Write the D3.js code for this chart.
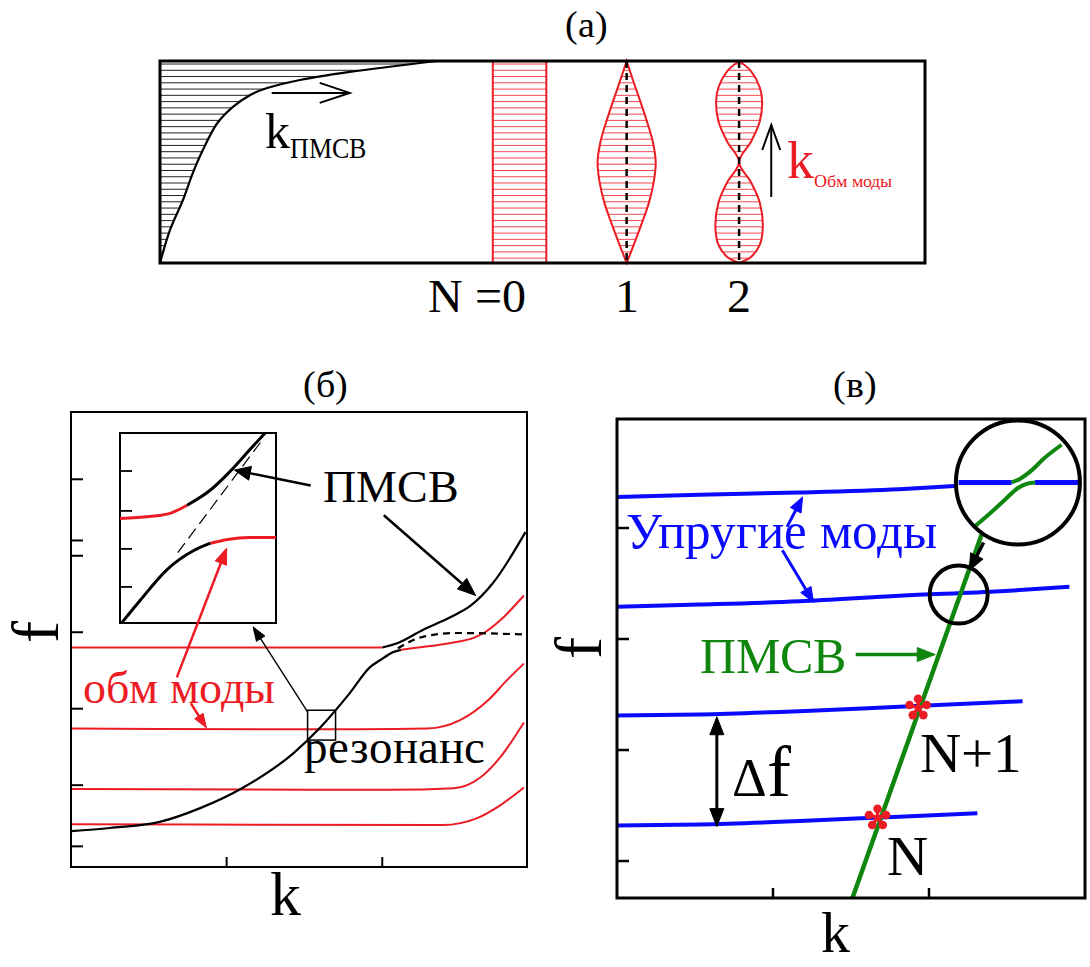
<!DOCTYPE html>
<html><head><meta charset="utf-8">
<script src="https://cdn.jsdelivr.net/npm/d3@7"></script>
<style>
@font-face{font-family:"FigSerif";src:local("Liberation Serif"),local("LiberationSerif"),local("LiberationSerif-Regular"),local("DejaVu Serif"),local("DejaVuSerif"),local("Times New Roman");}
html,body{margin:0;padding:0;background:#fff}
svg{display:block}
svg text{font-family:"FigSerif","Liberation Serif","DejaVu Serif",serif}
</style></head><body>
<svg id="fig" width="1090" height="967"></svg>
<script>
// ---------- (a) depth profiles across the film (x: position, depth in % of thickness) ----------
const surfaceProfile = [[36.2,0],[24.8,5.4],[18.3,9.4],[14.0,13.4],[11.8,16.8],[9.5,22.8],[7.5,30.7],[5.6,44.1],[4.3,55.4],[3.0,68.8],[1.3,83.7],[0,100]];
const uniformBand = [43.5, 50.5];              // N = 0 mode: constant amplitude across depth
const mode1Amp = [[0,0],[10,0.23],[20,0.47],[30,0.7],[40,0.9],[50,1],[60,0.93],[70,0.77],[80,0.53],[90,0.27],[100,0]];
const mode2Amp = [[0,0],[5,0.5],[13,0.87],[20,0.97],[30,0.87],[40,0.5],[50,0],[60,0.5],[70,0.87],[82,1],[91,0.87],[97,0.5],[100,0]];
const modeCenters = [61.0, 75.7];
const modeLabels = ["N =0", "1", "2"];

// ---------- (б) dispersion: magnetostatic wave vs exchange modes ----------
const bTicksF = [5, 4.2, 4, 3, 2, 1, 0.2];
const bTicksK = [1, 2];
const exch1Left  = [[0,2.80],[1.0,2.80],[2.0,2.80]];
const exch1Right = [[2.12,2.77],[2.23,2.80],[2.44,2.86],[2.59,2.93],[2.66,3.00],[2.76,3.16],[2.91,3.48]];
const exch2 = [[0,1.74],[1.86,1.73],[2.29,1.74],[2.50,1.85],[2.68,2.11],[2.80,2.37],[2.91,2.59]];
const exch3 = [[0,0.95],[2.07,0.94],[2.46,0.96],[2.63,1.10],[2.76,1.37],[2.91,1.82]];
const exch4 = [[0,0.49],[2.39,0.48],[2.61,0.57],[2.76,0.74],[2.91,0.97]];
const pmsvLower = [[0,0.40],[0.25,0.44],[0.57,0.52],[0.83,0.70],[1.09,0.95],[1.43,1.42],[1.60,1.75],[1.79,2.20],[1.92,2.54],[1.99,2.64],[2.07,2.74],[2.12,2.77]];
const pmsvUpper = [[2.0,2.80],[2.10,2.86],[2.26,3.03],[2.44,3.20],[2.57,3.35],[2.71,3.64],[2.92,4.31]];
const pmsvUncoupled = [[2.10,2.79],[2.26,2.94],[2.48,2.99],[2.92,2.97]];
// enlarged view of one crossing
const insetTicks = [0.80, 0.59, 0.39, 0.19];
const insetRedUpper  = [[0,0.55],[0.19,0.56],[0.33,0.58],[0.43,0.62]];
const insetPmsvUpper = [[0.43,0.62],[0.58,0.70],[0.72,0.81],[0.83,0.91],[0.93,1.0]];
const insetPmsvLower = [[0.01,0],[0.13,0.12],[0.30,0.28],[0.47,0.38],[0.58,0.42]];
const insetRedLower  = [[0.58,0.42],[0.69,0.44],[0.83,0.45],[1,0.45]];
const insetDashed    = [[0.37,0.37],[0.90,0.95]];

// ---------- (в) elastic modes vs magnetostatic wave ----------
const vTicksF = [0, 1, 2, 3];
const vTicksK = [1, 2];
const elastic1 = [[0,3.28],[0.53,3.30],[1.17,3.32],[1.81,3.35],[2.19,3.38]];
const elastic2 = [[0,2.29],[0.53,2.31],[1.17,2.34],[1.81,2.39],[2.46,2.43],[2.90,2.47]];
const elastic3 = [[0,1.31],[0.53,1.32],[1.17,1.35],[1.81,1.39],[2.60,1.44]];
const elastic4 = [[0,0.32],[0.53,0.33],[1.17,0.36],[1.81,0.40],[2.31,0.43]];
const pmsvLine = [[1.51,-0.33],[2.60,3.98]];
const zoomBlueLeft  = [[2.19,3.41],[2.53,3.41]];
const zoomBlueRight = [[2.68,3.41],[3.0,3.41]];
const zoomGreenUpper = [[2.53,3.41],[2.58,3.44],[2.65,3.51],[2.74,3.63],[2.85,3.75]];
const zoomGreenLower = [[2.29,3.01],[2.39,3.13],[2.49,3.26],[2.57,3.36],[2.63,3.40],[2.68,3.41]];
const resonances = [{k:1.67, f:0.39, label:"N",   lk:1.73, lf:-0.13},
                    {k:1.93, f:1.38, label:"N+1", lk:1.94, lf:0.80}];
const zoomCircle = {k:2.57, f:3.41};
const spotCircle = {k:2.19, f:2.40};

// ---------- styling ----------
const RED = "#ec1c24", BLUE = "#0a0aff", GREEN = "#0f870f", BLACK = "#000";
const svg = d3.select("#fig");

function arrow(g, p1, p2, o) {
  const color = o.color || BLACK, w = o.width || 2, L = o.len || 14, hw = o.hw || 5;
  const dx = p2[0]-p1[0], dy = p2[1]-p1[1], d = Math.hypot(dx, dy), ux = dx/d, uy = dy/d;
  const head = (tip, sx, sy) => {
    const bx = tip[0]-sx*L, by = tip[1]-sy*L;
    const a = [bx - sy*hw, by + sx*hw], b = [bx + sy*hw, by - sx*hw];
    if (o.open) {
      g.append("path").attr("d", `M${a}L${tip}L${b}`).attr("fill","none")
        .attr("stroke", color).attr("stroke-width", w).attr("stroke-linejoin","miter");
    } else {
      g.append("path").attr("d", `M${a}L${tip}L${b}Z`).attr("fill", color).attr("stroke", color).attr("stroke-width", 1);
    }
  };
  const s = o.both && !o.open ? L*0.8 : 0, e = o.open ? 0 : L*0.8;
  g.append("line").attr("x1", p1[0]+ux*s).attr("y1", p1[1]+uy*s).attr("x2", p2[0]-ux*e).attr("y2", p2[1]-uy*e)
    .attr("stroke", color).attr("stroke-width", w);
  head(p2, ux, uy);
  if (o.both) head(p1, -ux, -uy);
}

// ================= (a) =================
{
  const x = d3.scaleLinear().domain([0,100]).range([160,925]);
  const y = d3.scaleLinear().domain([0,100]).range([61,263]);
  const g = svg.append("g");
  const defs = svg.append("defs");
  const hatchDepths = d3.range(1.5, 100, 3.1);

  // surface magnetostatic wave profile
  const curve = d3.line().x(d=>x(d[0])).y(d=>y(d[1])).curve(d3.curveCatmullRom);
  const areaD = curve(surfaceProfile) + `L${x(0)},${y(0)}Z`;
  defs.append("clipPath").attr("id","clipSurf").append("path").attr("d", areaD);
  g.append("g").attr("clip-path","url(#clipSurf)").selectAll("line").data(hatchDepths).join("line")
    .attr("x1", x(0)).attr("x2", x(40)).attr("y1", d=>y(d)).attr("y2", d=>y(d))
    .attr("stroke", "#222").attr("stroke-width", 1);
  g.append("path").attr("d", curve(surfaceProfile)).attr("fill","none").attr("stroke",BLACK).attr("stroke-width",2.2);

  // N = 0 band
  g.append("g").selectAll("line").data(hatchDepths).join("line")
    .attr("x1", x(uniformBand[0])).attr("x2", x(uniformBand[1])).attr("y1", d=>y(d)).attr("y2", d=>y(d))
    .attr("stroke", RED).attr("stroke-opacity", 0.8).attr("stroke-width", 1);
  uniformBand.forEach(u => g.append("line").attr("x1",x(u)).attr("x2",x(u)).attr("y1",y(0)).attr("y2",y(100))
    .attr("stroke",RED).attr("stroke-width",2));

  // higher-order exchange modes
  const halfW = 3.8;
  [mode1Amp, mode2Amp].forEach((amp, i) => {
    const c = modeCenters[i], hw = i === 0 ? halfW : 3.1;
    const ln = d3.line().x(d=>x(d[0])).y(d=>y(d[1])).curve(d3.curveCatmullRom);
    const right = amp.map(d => [c + d[1]*hw, d[0]]);
    const left = amp.map(d => [c - d[1]*hw, d[0]]).reverse();
    const dd = ln(right) + ln(left).replace(/^M/, "L") + "Z";
    const id = "clipMode" + i;
    defs.append("clipPath").attr("id", id).append("path").attr("d", dd);
    g.append("g").attr("clip-path", `url(#${id})`).selectAll("line").data(hatchDepths).join("line")
      .attr("x1", x(c-hw-1)).attr("x2", x(c+hw+1)).attr("y1", d=>y(d)).attr("y2", d=>y(d))
      .attr("stroke", RED).attr("stroke-opacity", 0.8).attr("stroke-width", 1);
    g.append("path").attr("d", dd).attr("fill","none").attr("stroke",RED).attr("stroke-width",2);
    g.append("line").attr("x1",x(c)).attr("x2",x(c)).attr("y1",y(0)).attr("y2",y(100))
      .attr("stroke",BLACK).attr("stroke-width",2.5).attr("stroke-dasharray","7,5");
  });

  g.append("rect").attr("x",x(0)).attr("y",y(0)).attr("width",x(100)-x(0)).attr("height",y(100)-y(0))
    .attr("fill","none").attr("stroke",BLACK).attr("stroke-width",3);

  // wave-vector annotations
  arrow(g, [x(14.6), y(15.8)], [x(24.8), y(15.8)], {open:true, width:2, len:30, hw:10});
  const t1 = g.append("text").attr("x", x(13.7)).attr("y", y(43.1)).attr("font-size", 50).attr("fill", BLACK);
  t1.append("tspan").text("k");
  t1.append("tspan").attr("dy", 10).attr("font-size", 29).attr("textLength", 76).attr("lengthAdjust","spacingAndGlyphs").text("ПМСВ");
  arrow(g, [x(79.9), y(67.3)], [x(79.9), y(31.7)], {open:true, width:2, len:25, hw:9});
  const t2 = g.append("text").attr("x", x(82.0)).attr("y", y(57.9)).attr("font-size", 54).attr("fill", RED);
  t2.append("tspan").text("k");
  t2.append("tspan").attr("dy", 9).attr("font-size", 18).text("Обм моды");

  // mode numbers
  g.append("text").attr("x", x(35.0)).attr("y", y(124.3)).attr("font-size", 48).text(modeLabels[0]);
  modeCenters.forEach((c, i) => g.append("text").attr("x", x(c)).attr("y", y(124.3)).attr("text-anchor","middle")
    .attr("font-size", 48).text(modeLabels[i+1]));

  svg.append("text").attr("x", 586).attr("y", 37).attr("text-anchor","middle").attr("font-size",38).text("(a)");
}

// ================= (б) =================
{
  const x = d3.scaleLinear().domain([0, 2.93]).range([71, 527]);
  const y = d3.scaleLinear().domain([-0.07, 5.88]).range([867, 412]);
  const g = svg.append("g");
  const ln = d3.line().x(d=>x(d[0])).y(d=>y(d[1])).curve(d3.curveMonotoneX);

  // inner ticks
  g.selectAll(".ty").data(bTicksF).join("line").attr("x1", x(0)).attr("x2", x(0)+12)
    .attr("y1", d=>y(d)).attr("y2", d=>y(d)).attr("stroke",BLACK).attr("stroke-width",2);
  g.selectAll(".tx").data(bTicksK).join("line").attr("x1", d=>x(d)).attr("x2", d=>x(d))
    .attr("y1", y(-0.07)).attr("y2", y(-0.07)-10).attr("stroke",BLACK).attr("stroke-width",2);

  [exch1Left, exch1Right, exch2, exch3, exch4].forEach(s =>
    g.append("path").attr("d", ln(s)).attr("fill","none").attr("stroke",RED).attr("stroke-width",2));
  [pmsvLower, pmsvUpper].forEach(s =>
    g.append("path").attr("d", ln(s)).attr("fill","none").attr("stroke",BLACK).attr("stroke-width",2.2));
  g.append("path").attr("d", ln(pmsvUncoupled)).attr("fill","none").attr("stroke",BLACK)
    .attr("stroke-width",2.2).attr("stroke-dasharray","7,5");

  g.append("rect").attr("x",x(0)).attr("y",y(5.88)).attr("width",x(2.93)-x(0)).attr("height",y(-0.07)-y(5.88))
    .attr("fill","none").attr("stroke",BLACK).attr("stroke-width",2);

  // inset: enlarged crossing
  const xi = d3.scaleLinear().domain([0,1]).range([120,276]);
  const yi = d3.scaleLinear().domain([0,1]).range([623,433]);
  const li = d3.line().x(d=>xi(d[0])).y(d=>yi(d[1])).curve(d3.curveMonotoneX);
  const gi = g.append("g");
  gi.append("rect").attr("x",xi(0)).attr("y",yi(1)).attr("width",xi(1)-xi(0)).attr("height",yi(0)-yi(1))
    .attr("fill","#fff").attr("stroke",BLACK).attr("stroke-width",2);
  gi.selectAll(".it").data(insetTicks).join("line").attr("x1", xi(0)).attr("x2", xi(0)+12)
    .attr("y1", d=>yi(d)).attr("y2", d=>yi(d)).attr("stroke",BLACK).attr("stroke-width",1.8);
  gi.append("path").attr("d", d3.line().x(d=>xi(d[0])).y(d=>yi(d[1]))(insetDashed)).attr("stroke",BLACK)
    .attr("stroke-width",1.2).attr("stroke-dasharray","12,6").attr("fill","none");
  [insetRedUpper, insetRedLower].forEach(s =>
    gi.append("path").attr("d", li(s)).attr("fill","none").attr("stroke",RED).attr("stroke-width",3));
  [insetPmsvUpper, insetPmsvLower].forEach(s =>
    gi.append("path").attr("d", li(s)).attr("fill","none").attr("stroke",BLACK).attr("stroke-width",3));

  // resonance marker
  g.append("rect").attr("x", x(1.52)).attr("y", y(1.98)).attr("width", x(1.70)-x(1.52)).attr("height", y(1.59)-y(1.98))
    .attr("fill","none").attr("stroke",BLACK).attr("stroke-width",1.5);

  // annotations
  arrow(g, [x(1.54), y(4.92)], [x(1.05), y(5.12)], {width:2.5, len:16, hw:7});
  arrow(g, [x(2.01), y(4.53)], [x(2.60), y(3.48)], {width:2.5, len:18, hw:7});
  arrow(g, [x(1.52), y(1.96)], [x(1.17), y(3.07)], {width:1.4, len:14, hw:5});
  arrow(g, [x(0.68), y(2.41)], [x(1.00), y(4.10)], {color:RED, width:2.5, len:16, hw:6});
  arrow(g, [x(0.77), y(2.07)], [x(0.87), y(1.75)], {color:RED, width:2.5, len:14, hw:5});

  g.append("text").attr("x", x(1.62)).attr("y", y(4.70)).attr("font-size", 46).text("ПМСВ");
  g.append("text").attr("x", x(0.08)).attr("y", y(2.08)).attr("font-size", 46).attr("fill", RED).text("обм моды");
  g.append("text").attr("x", x(1.50)).attr("y", y(1.29)).attr("font-size", 47).text("резонанс");

  g.append("text").attr("transform", `translate(${x(-0.23)},${y(3.0)}) rotate(-90)`).attr("text-anchor","middle")
    .attr("dominant-baseline","central").attr("font-size", 66).text("f");
  g.append("text").attr("x", x(1.38)).attr("y", y(-0.70)).attr("text-anchor","middle").attr("font-size", 62).text("k");
  svg.append("text").attr("x", 325).attr("y", 397).attr("text-anchor","middle").attr("font-size",38).text("(б)");
}

// ================= (в) =================
{
  const x = d3.scaleLinear().domain([0, 3]).range([617, 1085]);
  const y = d3.scaleLinear().domain([-0.333, 3.982]).range([898, 419]);
  const g = svg.append("g");
  const defs = svg.append("defs");
  const ln = d3.line().x(d=>x(d[0])).y(d=>y(d[1])).curve(d3.curveMonotoneX);
  const straight = d3.line().x(d=>x(d[0])).y(d=>y(d[1]));

  defs.append("clipPath").attr("id","clipV").append("rect").attr("x",x(0)).attr("y",y(3.982))
    .attr("width",x(3)-x(0)).attr("height",y(-0.333)-y(3.982));
  const plot = g.append("g").attr("clip-path","url(#clipV)");

  g.selectAll(".ty").data(vTicksF).join("line").attr("x1", x(0)).attr("x2", x(0)+12)
    .attr("y1", d=>y(d)).attr("y2", d=>y(d)).attr("stroke",BLACK).attr("stroke-width",2.5);
  g.selectAll(".tx").data(vTicksK).join("line").attr("x1", d=>x(d)).attr("x2", d=>x(d))
    .attr("y1", y(-0.333)).attr("y2", y(-0.333)-10).attr("stroke",BLACK).attr("stroke-width",2.5);

  [elastic1, elastic2, elastic3, elastic4].forEach(s =>
    plot.append("path").attr("d", ln(s)).attr("fill","none").attr("stroke",BLUE).attr("stroke-width",4));
  plot.append("path").attr("d", straight(pmsvLine)).attr("stroke",GREEN).attr("stroke-width",4.5);

  // magnified view of the crossing
  const R = 62, cx = x(zoomCircle.k), cy = y(zoomCircle.f);
  defs.append("clipPath").attr("id","clipZoom").append("circle").attr("cx",cx).attr("cy",cy).attr("r",R);
  plot.append("circle").attr("cx",cx).attr("cy",cy).attr("r",R).attr("fill","#fff");
  const gz = plot.append("g").attr("clip-path","url(#clipZoom)");
  [zoomBlueLeft, zoomBlueRight].forEach(s =>
    gz.append("path").attr("d", straight(s)).attr("stroke",BLUE).attr("stroke-width",5));
  [zoomGreenUpper, zoomGreenLower].forEach(s =>
    gz.append("path").attr("d", ln(s)).attr("fill","none").attr("stroke",GREEN).attr("stroke-width",4));
  plot.append("circle").attr("cx",cx).attr("cy",cy).attr("r",R).attr("fill","none").attr("stroke",BLACK).attr("stroke-width",4);

  g.append("circle").attr("cx",x(spotCircle.k)).attr("cy",y(spotCircle.f)).attr("r",29)
    .attr("fill","none").attr("stroke",BLACK).attr("stroke-width",4);
  arrow(g, [x(2.35), y(2.87)], [x(2.26), y(2.62)], {width:3.5, len:16, hw:7});

  g.append("rect").attr("x",x(0)).attr("y",y(3.982)).attr("width",x(3)-x(0)).attr("height",y(-0.333)-y(3.982))
    .attr("fill","none").attr("stroke",BLACK).attr("stroke-width",3);

  // resonance points
  resonances.forEach(r => {
    const px = x(r.k), py = y(r.f);
    const star = g.append("g").attr("transform", `translate(${px},${py})`);
    d3.range(5).forEach(i => {
      const a = (-90 + 72*i) * Math.PI/180;
      star.append("line").attr("x1",0).attr("y1",0).attr("x2",Math.cos(a)*8).attr("y2",Math.sin(a)*8)
        .attr("stroke",RED).attr("stroke-width",3.5);
      star.append("circle").attr("cx",Math.cos(a)*9).attr("cy",Math.sin(a)*9).attr("r",4.3).attr("fill",RED);
    });
    g.append("text").attr("x", x(r.lk)).attr("y", y(r.lf)).attr("font-size", 57).text(r.label);
  });

  // annotations
  arrow(g, [x(1.09), y(3.01)], [x(1.19), y(3.28)], {color:BLUE, width:3, len:15, hw:6});
  arrow(g, [x(1.06), y(2.80)], [x(1.26), y(2.33)], {color:BLUE, width:3, len:15, hw:6});
  arrow(g, [x(1.53), y(1.86)], [x(2.04), y(1.86)], {color:GREEN, width:3.5, len:18, hw:7});
  arrow(g, [x(0.64), y(1.30)], [x(0.64), y(0.31)], {width:3, len:18, hw:7, both:true});

  g.append("text").attr("x", x(0.06)).attr("y", y(2.82)).attr("font-size", 51).attr("fill", BLUE).text("Упругие моды");
  g.append("text").attr("x", x(0.53)).attr("y", y(1.69)).attr("font-size", 50).attr("fill", GREEN).text("ПМСВ");
  const df = g.append("text").attr("x", x(0.74)).attr("y", y(0.59)).attr("font-size", 54);
  df.append("tspan").text("Δ");
  df.append("tspan").attr("font-size", 72).text("f");

  g.append("text").attr("transform", `translate(${x(-0.25)},${y(1.92)}) rotate(-90)`).attr("text-anchor","middle")
    .attr("dominant-baseline","central").attr("font-size", 66).text("f");
  g.append("text").attr("x", x(1.40)).attr("y", y(-0.82)).attr("text-anchor","middle").attr("font-size", 58).text("k");
  svg.append("text").attr("x", 855).attr("y", 397).attr("text-anchor","middle").attr("font-size",38).text("(в)");
}
</script>
</body></html>
